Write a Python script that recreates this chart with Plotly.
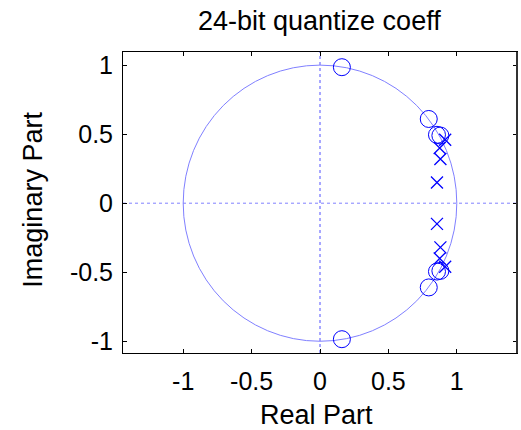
import plotly.graph_objects as go

# Data (zeros "o" and poles "x")
zeros_re = [0.16, 0.16, 0.795, 0.795, 0.855, 0.855, 0.88, 0.88]
zeros_im = [0.985, -0.985, 0.61, -0.61, 0.495, -0.495, 0.49, -0.49]
poles_re = [0.855, 0.855, 0.88, 0.88, 0.875, 0.875, 0.915, 0.915]
poles_im = [0.15, -0.15, 0.32, -0.32, 0.40, -0.40, 0.46, -0.46]

tick_vals = [-1, -0.5, 0, 0.5, 1]
tick_text = ["-1", "-0.5", "0", "0.5", "1"]
x_range = [-1.44, 1.44]
y_range = [-1.085, 1.095]

FONT = "Liberation Sans, Arial, sans-serif"
BLUE = "#0000ff"
LIGHT = "#8080ff"

fig = go.Figure()
fig.add_trace(go.Scatter(
    x=zeros_re, y=zeros_im, mode="markers",
    marker=dict(symbol="circle-open", size=17, color=BLUE, line=dict(width=1, color=BLUE)),
    showlegend=False, hoverinfo="skip"))
fig.add_trace(go.Scatter(
    x=poles_re, y=poles_im, mode="markers",
    marker=dict(symbol="x-thin-open", size=12, color=BLUE, line=dict(width=1.3, color=BLUE)),
    showlegend=False, hoverinfo="skip"))

shapes = [
    dict(type="circle", xref="x", yref="y", x0=-1, x1=1, y0=-1, y1=1,
         line=dict(color=LIGHT, width=1), layer="below"),
    dict(type="line", xref="paper", yref="y", x0=0, x1=1, y0=0, y1=0,
         line=dict(color=LIGHT, width=1, dash="dot"), layer="below"),
    dict(type="line", xref="x", yref="paper", x0=0, x1=0, y0=0, y1=1,
         line=dict(color="#5050ff", width=1, dash="dot"), layer="below"),
    dict(type="line", xref="paper", yref="paper", x0=1, x1=1, y0=0, y1=1,
         line=dict(color="#333333", width=2)),
]

axis_common = dict(
    showgrid=False, zeroline=False, showline=True, linecolor="black", linewidth=1,
    mirror="ticks", ticks="inside", ticklen=4, tickcolor="black", tickwidth=1,
    tickvals=tick_vals, ticktext=tick_text, automargin=False,
    tickfont=dict(family=FONT, size=25, color="black"),
)

TFONT = dict(family=FONT, size=27, color="black")

fig.update_layout(
    width=521, height=430,
    margin=dict(l=122.5, r=4, t=52, b=77, autoexpand=False),
    paper_bgcolor="white", plot_bgcolor="white",
    xaxis=dict(range=x_range, ticklabelstandoff=6, **axis_common),
    yaxis=dict(range=y_range, ticklabelstandoff=4, **axis_common),
    shapes=shapes,
    annotations=[
        dict(text="24-bit quantize coeff", xref="paper", yref="paper", x=0.498, y=1.103,
             xanchor="center", yanchor="middle", showarrow=False, font=TFONT),
        dict(text="Real Part", xref="paper", yref="paper", x=0.492, y=-0.206,
             xanchor="center", yanchor="middle", showarrow=False, font=TFONT),
        dict(text="Imaginary Part", xref="paper", yref="paper", x=-0.227, y=0.508,
             xanchor="center", yanchor="middle", textangle=-90, showarrow=False, font=TFONT),
    ],
)

fig.write_html("out.html", config={"displayModeBar": False},
               post_script="document.body.style.margin='0';")
